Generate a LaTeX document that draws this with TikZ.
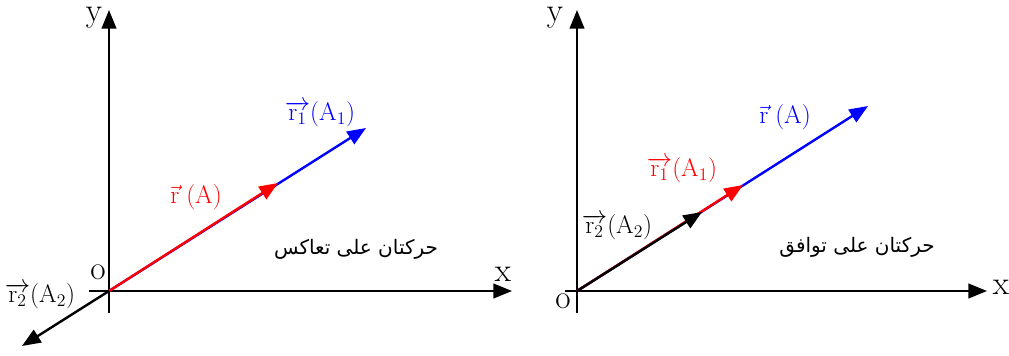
\RequirePackage{fix-cm}
\documentclass[tikz,border=0pt]{standalone}
\usepackage{fontspec}
\usetikzlibrary{arrows.meta}
\newfontfamily\arabicfont[Script=Arabic]{DejaVu Sans}
\TeXXeTstate=1
\definecolor{vecred}{HTML}{FF0000}
\definecolor{vecblue}{HTML}{0000FF}
\tikzset{
  axis/.style={line width=1.6pt, -{Triangle[length=14pt,width=11pt]}},
  vecline/.style={line width=1.8pt, -{Triangle[length=14pt,width=11pt]}},
  lbl/.style={font=\fontsize{19}{21}\selectfont, inner sep=1pt},
  axlbl/.style={font=\fontsize{25}{27}\selectfont, inner sep=1pt},
  caption/.style={font=\arabicfont\fontsize{15}{17}\selectfont, inner sep=1pt}
}

\begin{document}
\begin{tikzpicture}[x=0.75pt, y=-0.75pt]
\useasboundingbox (0,0) rectangle (1009,356);

% left frame: opposite motion
\coordinate (O1) at (109,291);
\coordinate (xs1) at (89,291);
\coordinate (xe1) at (512,291);
\coordinate (ys1) at (109,313);
\coordinate (ye1) at (109,10);
\coordinate (rA1) at (278,183);
\coordinate (rB1) at (366,128);
\coordinate (rC1) at (22,346);

\draw[axis] (xs1) -- (xe1);
\draw[axis] (ys1) -- (ye1);
\draw[vecline, vecblue] (O1) -- (rB1);
\draw[vecline, vecred] (O1) -- (rA1);
\draw[vecline, black] (O1) -- (rC1);

\node[axlbl] (ylab1) at (94,18) {y};
\node[axlbl] (xlab1) at (503,274) {x};
\node[axlbl] (olab1) at (98,272) {o};
\node[lbl, text=vecred] (rAlab1) at (196,197) {$\vec{\mathrm{r}}\;(\mathrm{A})$};
\node[lbl, text=vecblue] (rBlab1) at (320,114) {$\overrightarrow{\mathrm{r}_1}(\mathrm{A}_1)$};
\node[lbl] (rClab1) at (40,296) {$\overrightarrow{\mathrm{r}_2}(\mathrm{A}_2)$};
\node[caption] (cap1) at (356,249) {\beginR حركتان على تعاكس\endR};

% right frame: same direction
\coordinate (O2) at (577,291);
\coordinate (xs2) at (565,291);
\coordinate (xe2) at (987,291);
\coordinate (ys2) at (577,313);
\coordinate (ye2) at (577,10);
\coordinate (rA2) at (868,106);
\coordinate (rB2) at (743,185);
\coordinate (rC2) at (702,212);

\draw[axis] (xs2) -- (xe2);
\draw[axis] (ys2) -- (ye2);
\draw[vecline, vecblue] (O2) -- (rA2);
\draw[vecline, vecred] (O2) -- (rB2);
\draw[vecline, black] (O2) -- (rC2);

\node[axlbl] (ylab2) at (555,18) {y};
\node[axlbl] (xlab2) at (1001,287) {x};
\node[axlbl] (olab2) at (563,301) {o};
\node[lbl, text=vecblue] (rAlab2) at (785,117) {$\vec{\mathrm{r}}\;(\mathrm{A})$};
\node[lbl, text=vecred] (rBlab2) at (682,170) {$\overrightarrow{\mathrm{r}_1}(\mathrm{A}_1)$};
\node[lbl] (rClab2) at (617,227) {$\overrightarrow{\mathrm{r}_2}(\mathrm{A}_2)$};
\node[caption] (cap2) at (857,247) {\beginR حركتان على توافق\endR};

\end{tikzpicture}
\end{document}
